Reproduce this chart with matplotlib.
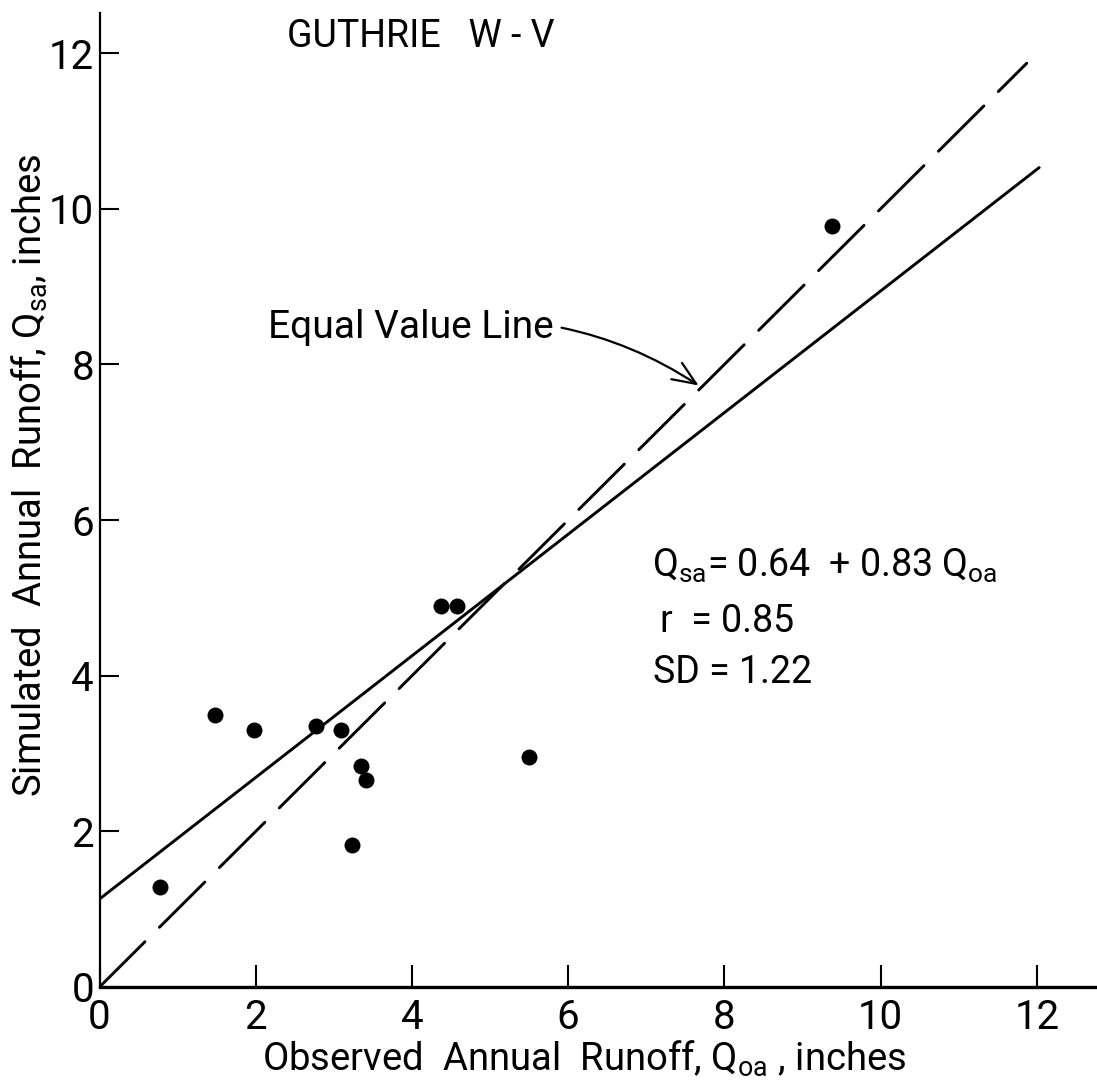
import matplotlib
matplotlib.use("Agg")
import matplotlib.pyplot as plt

plt.rcParams['font.family'] = ['Roboto', 'DejaVu Sans']
plt.rcParams['mathtext.fontset'] = 'custom'
plt.rcParams['mathtext.rm'] = 'Roboto'
plt.rcParams['mathtext.it'] = 'Roboto'

# Data
observed = [0.78, 1.48, 1.98, 2.77, 3.09, 3.35, 3.41, 3.23, 4.37, 4.58, 5.50, 9.38]
simulated = [1.29, 3.50, 3.30, 3.35, 3.30, 2.84, 2.66, 1.82, 4.90, 4.90, 2.96, 9.78]
equal_x = [0.0, 11.87]
equal_y = [0.0, 11.87]
fit_x = [0.0, 12.03]
fit_y = [1.13, 10.53]
xticks = [0, 2, 4, 6, 8, 10, 12]
yticks = [0, 2, 4, 6, 8, 10, 12]
xlabels = ['0', '2', '4', '6', '8', '10', '12']
ylabels = ['0', '2', '4', '6', '8', '10', '12']

fig = plt.figure(figsize=(10.97, 10.89), dpi=100)
ax = fig.add_axes([99.5 / 1097, (1089 - 987) / 1089, (1097 - 99.5) / 1097, (987 - 12.7) / 1089])

ax.plot(equal_x, equal_y, color='black', lw=2.1, dashes=(22, 7), solid_capstyle='round', dash_capstyle='round')
ax.plot(fit_x, fit_y, color='black', lw=2.1, solid_capstyle='round')
ax.plot(observed, simulated, 'o', color='black', markersize=11.5, markeredgewidth=0)

ax.set_xlim(0, 12.77)
ax.set_ylim(0, 12.52)
ax.set_xticks(xticks)
ax.set_xticklabels(xlabels)
ax.set_yticks(yticks)
ax.set_yticklabels(ylabels)

for s in ['top', 'right']:
    ax.spines[s].set_visible(False)
ax.spines['left'].set_linewidth(1.6)
ax.spines['bottom'].set_linewidth(2.4)

ax.tick_params(axis='x', direction='in', length=16, width=1.5, pad=8, labelsize=29)
ax.tick_params(axis='y', direction='in', length=14, width=1.5, pad=4, labelsize=29)

ax.set_xlabel(r'Observed  Annual  Runoff, $\mathrm{Q_{oa}}$ , inches', fontsize=27.5)
ax.set_ylabel(r'Simulated  Annual  Runoff, $\mathrm{Q_{sa}}$, inches', fontsize=27.5)
ax.xaxis.set_label_coords(0.486, -0.053)
ax.yaxis.set_label_coords(-0.05, 0.525)

ax.text(2.40, 12.21, 'GUTHRIE   W - V', fontsize=27, ha='left', va='center')

ax.annotate('Equal Value Line', xy=(7.67, 7.73), xytext=(5.81, 8.48),
            fontsize=28, ha='right', va='center',
            arrowprops=dict(arrowstyle='->,head_length=0.6,head_width=0.25', color='black', lw=1.6,
                            connectionstyle='arc3,rad=-0.2', shrinkA=4, shrinkB=0))

ax.text(7.07, 5.41, r'$\mathrm{Q_{sa}}$= 0.64  + 0.83 $\mathrm{Q_{oa}}$', fontsize=27, ha='left', va='center')
ax.text(7.18, 4.70, 'r  = 0.85', fontsize=27, ha='left', va='center')
ax.text(7.09, 4.04, 'SD = 1.22', fontsize=27, ha='left', va='center')

fig.savefig('out.png', dpi=100)
